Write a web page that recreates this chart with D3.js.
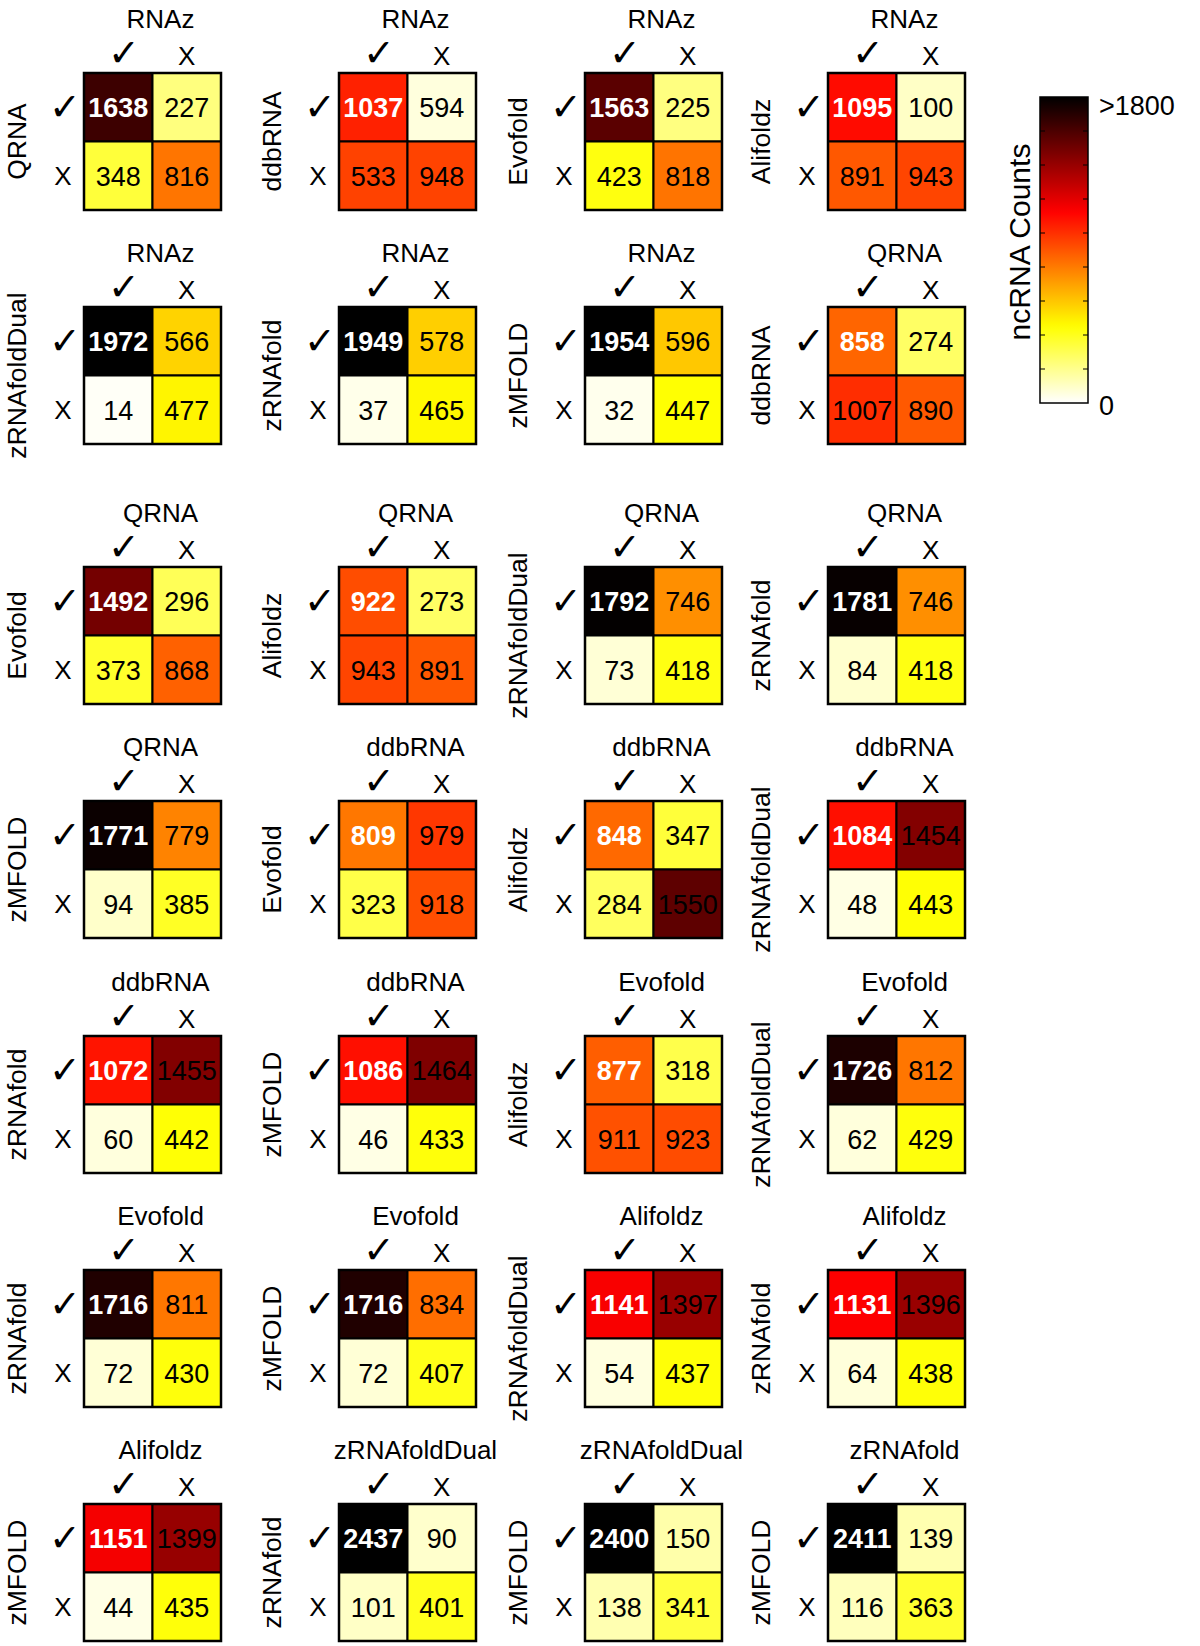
<!DOCTYPE html>
<html lang="en">
<head>
    <meta charset="UTF-8">
    <title>ncRNA method overlap</title>
    <script src="https://d3js.org/d3.v7.min.js"></script>
    <style>
        body { margin: 0; background: #fff; }
        text { font-family: "Liberation Sans", Arial, sans-serif; }
    </style>
</head>
<body>
<div id="chart"></div>

<script>
    // method on top of each panel (columns) and on the left (rows), panels read row by row
    const colMethod = ["RNAz", "RNAz", "RNAz", "RNAz", "RNAz", "RNAz", "RNAz", "QRNA",
        "QRNA", "QRNA", "QRNA", "QRNA", "QRNA", "ddbRNA", "ddbRNA", "ddbRNA",
        "ddbRNA", "ddbRNA", "Evofold", "Evofold", "Evofold", "Evofold", "Alifoldz", "Alifoldz",
        "Alifoldz", "zRNAfoldDual", "zRNAfoldDual", "zRNAfold"];
    const rowMethod = ["QRNA", "ddbRNA", "Evofold", "Alifoldz", "zRNAfoldDual", "zRNAfold", "zMFOLD", "ddbRNA",
        "Evofold", "Alifoldz", "zRNAfoldDual", "zRNAfold", "zMFOLD", "Evofold", "Alifoldz", "zRNAfoldDual",
        "zRNAfold", "zMFOLD", "Alifoldz", "zRNAfoldDual", "zRNAfold", "zMFOLD", "zRNAfoldDual", "zRNAfold",
        "zMFOLD", "zRNAfold", "zMFOLD", "zMFOLD"];

    // counts: row yes/col yes, row yes/col no, row no/col yes, row no/col no
    const bothYes = [1638, 1037, 1563, 1095, 1972, 1949, 1954, 858,
        1492, 922, 1792, 1781, 1771, 809, 848, 1084,
        1072, 1086, 877, 1726, 1716, 1716, 1141, 1131,
        1151, 2437, 2400, 2411];
    const rowOnly = [227, 594, 225, 100, 566, 578, 596, 274,
        296, 273, 746, 746, 779, 979, 347, 1454,
        1455, 1464, 318, 812, 811, 834, 1397, 1396,
        1399, 90, 150, 139];
    const colOnly = [348, 533, 423, 891, 14, 37, 32, 1007,
        373, 943, 73, 84, 94, 323, 284, 48,
        60, 46, 911, 62, 72, 72, 54, 64,
        44, 101, 138, 116];
    const bothNo = [816, 948, 818, 943, 477, 465, 447, 890,
        868, 891, 418, 418, 385, 918, 1550, 443,
        442, 433, 923, 429, 430, 407, 437, 438,
        435, 401, 341, 363];

    // a few cells are shaded differently from their count in the figure (panel, cell, shade level)
    const shadeFix = [[1, 1, 60], [1, 2, 950]];

    const colorTicks = [0, 200, 400, 600, 800, 1000, 1200, 1400, 1600, 1800];
    const colorMax = 1800;

    const width = 1200, height = 1646;
    const colX = [84, 339, 585, 828];
    const rowY = [73, 307, 567, 801, 1036, 1270, 1504];
    const box = 137, cell = box / 2;
    const CHECK = "\u2713";

    // reversed "hot" colormap
    const color = d3.scaleLinear()
        .domain([0, colorMax / 4, colorMax * 0.625, colorMax])
        .range(["#ffffff", "#ffff00", "#ff0000", "#000000"])
        .clamp(true);

    const svg = d3.select("#chart").append("svg")
        .attr("width", width)
        .attr("height", height);

    const panels = bothYes.map((v, i) => {
        const vals = [v, rowOnly[i], colOnly[i], bothNo[i]];
        const shade = vals.slice();
        shadeFix.filter(f => f[0] === i).forEach(f => shade[f[1]] = f[2]);
        return {i: i, col: colMethod[i], row: rowMethod[i], vals: vals, shade: shade};
    });

    const x = d3.scaleBand().domain([0, 1]).range([0, box]);
    const y = d3.scaleBand().domain([0, 1]).range([0, box]);

    const g = svg.selectAll("g.panel")
        .data(panels)
        .join("g")
        .attr("class", "panel")
        .attr("transform", d => `translate(${colX[d.i % 4]},${rowY[Math.floor(d.i / 4)]})`);

    g.selectAll("rect.cell")
        .data(d => d.vals.map((v, k) => ({v: v, s: d.shade[k], k: k})))
        .join("rect")
        .attr("class", "cell")
        .attr("x", c => x(c.k % 2))
        .attr("y", c => y(Math.floor(c.k / 2)))
        .attr("width", x.bandwidth())
        .attr("height", y.bandwidth())
        .attr("fill", c => color(c.s))
        .attr("stroke", "#000")
        .attr("stroke-width", 2);

    g.append("rect")
        .attr("width", box).attr("height", box)
        .attr("fill", "none").attr("stroke", "#000").attr("stroke-width", 2.5);

    g.selectAll("text.num")
        .data(d => d.vals.map((v, k) => ({v: v, k: k})))
        .join("text")
        .attr("class", "num")
        .attr("x", c => x(c.k % 2) + cell / 2)
        .attr("y", c => y(Math.floor(c.k / 2)) + cell / 2 + 10)
        .attr("text-anchor", "middle")
        .attr("font-size", 27)
        .attr("font-weight", c => c.k === 0 ? "bold" : "normal")
        .attr("fill", c => c.k === 0 ? "#fff" : "#000")
        .text(c => c.v);

    // column method title and yes/no marks
    g.append("text")
        .attr("x", cell + 8)
        .attr("y", -45)
        .attr("text-anchor", "middle")
        .attr("font-size", 26)
        .text(d => d.col);

    g.append("text")
        .attr("x", cell / 2 + 6)
        .attr("y", -7)
        .attr("text-anchor", "middle")
        .attr("font-size", 38)
        .attr("font-family", "DejaVu Sans")
        .text(CHECK);
    g.append("text")
        .attr("x", cell * 1.5)
        .attr("y", -8)
        .attr("text-anchor", "middle")
        .attr("font-size", 26)
        .text("X");

    // row method and yes/no marks
    g.append("text")
        .attr("transform", `translate(-58,${box / 2}) rotate(-90)`)
        .attr("text-anchor", "middle")
        .attr("font-size", 26.5)
        .text(d => d.row);

    g.append("text")
        .attr("x", -19)
        .attr("y", cell / 2 + 13)
        .attr("text-anchor", "middle")
        .attr("font-size", 38)
        .attr("font-family", "DejaVu Sans")
        .text(CHECK);
    g.append("text")
        .attr("x", -21)
        .attr("y", cell * 1.5 + 9.5)
        .attr("text-anchor", "middle")
        .attr("font-size", 26)
        .text("X");

    // colorbar
    const cb = {x: 1040, y: 97, w: 48, h: 306};
    const cbScale = d3.scaleLinear().domain([0, colorMax]).range([cb.y + cb.h, cb.y]);

    const grad = svg.append("defs").append("linearGradient")
        .attr("id", "cbar")
        .attr("x1", 0).attr("y1", 1).attr("x2", 0).attr("y2", 0);
    grad.selectAll("stop")
        .data(d3.range(0, 1.0001, 0.02))
        .join("stop")
        .attr("offset", t => t)
        .attr("stop-color", t => color(t * colorMax));

    svg.append("rect")
        .attr("x", cb.x).attr("y", cb.y)
        .attr("width", cb.w).attr("height", cb.h)
        .attr("fill", "url(#cbar)")
        .attr("stroke", "#000").attr("stroke-width", 1.5);

    const inner = colorTicks.slice(1, -1);
    svg.selectAll("line.tl")
        .data(inner)
        .join("line")
        .attr("x1", cb.x).attr("x2", cb.x + 5)
        .attr("y1", cbScale).attr("y2", cbScale)
        .attr("stroke", "#000").attr("stroke-width", 1);
    svg.selectAll("line.tr")
        .data(inner)
        .join("line")
        .attr("x1", cb.x + cb.w - 5).attr("x2", cb.x + cb.w)
        .attr("y1", cbScale).attr("y2", cbScale)
        .attr("stroke", "#000").attr("stroke-width", 1);

    svg.selectAll("text.cbl")
        .data([colorTicks[0], colorTicks[colorTicks.length - 1]])
        .join("text")
        .attr("class", "cbl")
        .attr("x", cb.x + cb.w + 11)
        .attr("y", v => v === colorMax ? cbScale(v) + 18 : cbScale(v) + 12)
        .attr("font-size", 27)
        .text(v => v === colorMax ? ">" + v : v);

    svg.append("text")
        .attr("transform", `translate(1030,${cb.y + cb.h / 2 - 8}) rotate(-90)`)
        .attr("text-anchor", "middle")
        .attr("font-size", 30)
        .text("ncRNA Counts");
</script>
</body>
</html>
